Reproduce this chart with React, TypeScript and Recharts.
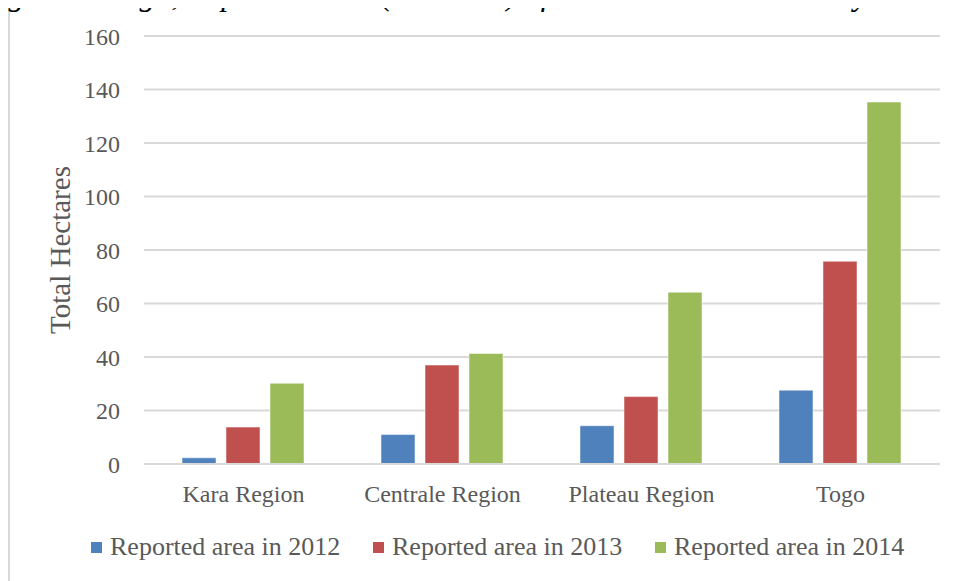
import { BarChart, Bar, XAxis, YAxis, CartesianGrid } from 'recharts';

// values (hectares)
const regions = ['Kara Region', 'Centrale Region', 'Plateau Region', 'Togo'];
const area2012 = [2.3, 11, 14.3, 27.6];
const area2013 = [13.8, 37, 25.2, 75.8];
const area2014 = [30.2, 41.3, 64.2, 135.3];
const yTicks = [0, 20, 40, 60, 80, 100, 120, 140, 160];

const seriesKeys = ['y2012', 'y2013', 'y2014'];
const seriesNames = ['Reported area in 2012', 'Reported area in 2013', 'Reported area in 2014'];
const colors = ['#4f81bd', '#c0504d', '#9bbb59'];

const data = regions.map((r, i) => ({
  region: r,
  y2012: area2012[i],
  y2013: area2013[i],
  y2014: area2014[i],
}));

const FONT = '"Liberation Serif", serif';
const TEXT = '#595959';

export default function App() {
  return (
    <div style={{ position: 'relative', width: 959, height: 581, margin: '-8px 0 0 -8px', overflow: 'hidden', background: '#fff' }}>
      <div
        style={{
          position: 'absolute', left: 8, top: 6, width: 980, height: 600,
          borderLeft: '2px solid #d9d9d9', borderTop: '2px solid #d9d9d9',
        }}
      />
      {/* caption of the figure, cut off by the page top in the source too */}
      <div
        style={{
          position: 'absolute', left: -20, top: -22, whiteSpace: 'nowrap',
          fontFamily: FONT, fontStyle: 'italic', fontSize: 32, lineHeight: '32px', color: '#000',
        }}
      >
        Figure 3: Togo, Reported Area (Hectares) of the Sawah Inland Valley
      </div>
      <div style={{ position: 'absolute', left: 0, top: 0 }}>
        <BarChart
          width={959}
          height={581}
          data={data}
          margin={{ top: 36, right: 19, left: 0, bottom: 57 }}
          barGap={10}
          barCategoryGap={38}
        >
          <CartesianGrid vertical={false} stroke="#d9d9d9" strokeWidth={2} />
          <XAxis
            dataKey="region"
            axisLine={{ stroke: '#d9d9d9', strokeWidth: 2 }}
            tickLine={false}
            tickMargin={15}
            height={60}
            tick={{ fill: TEXT, fontSize: 24, fontFamily: FONT }}
          />
          <YAxis
            width={144}
            domain={[0, 160]}
            ticks={yTicks}
            axisLine={false}
            tickLine={false}
            tickMargin={18}
            tick={{ fill: TEXT, fontSize: 24, fontFamily: FONT }}
            label={{
              value: 'Total Hectares',
              angle: -90,
              position: 'insideLeft',
              offset: 60,
              style: { textAnchor: 'middle', fill: TEXT, fontSize: 29, fontFamily: FONT },
            }}
          />
          {seriesKeys.map((k, i) => (
            <Bar key={k} dataKey={k} name={seriesNames[i]} fill={colors[i]} stroke="#fff" strokeOpacity={0.5} isAnimationActive={false} />
          ))}
        </BarChart>
      </div>
      <div
        style={{
          position: 'absolute', left: 91, top: 531, height: 32, display: 'flex', alignItems: 'center',
          fontFamily: FONT, fontSize: 26, color: TEXT,
        }}
      >
        {seriesNames.map((n, i) => (
          <div key={n} style={{ display: 'flex', alignItems: 'center', width: 282 }}>
            <span style={{ width: 11, height: 11, background: colors[i], marginRight: 8, display: 'inline-block' }} />
            <span>{n}</span>
          </div>
        ))}
      </div>
    </div>
  );
}
